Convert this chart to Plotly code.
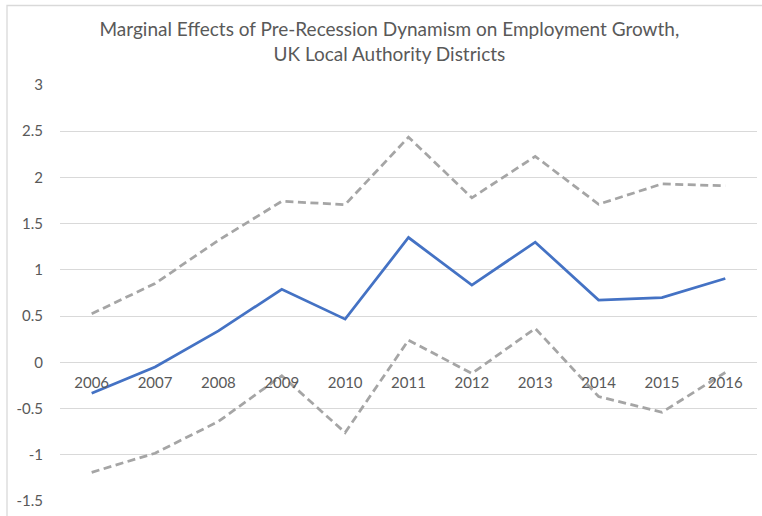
import plotly.graph_objects as go

# Years and estimated marginal effects with confidence bounds
years = ["2006", "2007", "2008", "2009", "2010", "2011", "2012", "2013", "2014", "2015", "2016"]
effect = [-0.335, -0.05, 0.34, 0.79, 0.467, 1.35, 0.835, 1.30, 0.673, 0.70, 0.907]
upper = [0.525, 0.853, 1.32, 1.742, 1.706, 2.436, 1.78, 2.228, 1.71, 1.93, 1.91]
lower = [-1.19, -0.983, -0.64, -0.145, -0.76, 0.24, -0.12, 0.367, -0.37, -0.54, -0.11]
y_ticks = [-1.5, -1, -0.5, 0, 0.5, 1, 1.5, 2, 2.5, 3]
y_tick_text = ["-1.5", "-1", "-0.5", "0", "0.5", "1", "1.5", "2", "2.5", "3"]

W, H = 762, 516
ML, MR, MT, MB = 60, 5, 85, 15
FONT = "Lato"
TEXT = "#595959"
GRID = "#d9d9d9"

fig = go.Figure()
dash_style = dict(color="#A5A5A5", width=2.75, dash="8px,4.5px")
fig.add_trace(go.Scatter(x=years, y=upper, mode="lines", line=dash_style, name="Upper"))
fig.add_trace(go.Scatter(x=years, y=lower, mode="lines", line=dash_style, name="Lower"))
fig.add_trace(go.Scatter(x=years, y=effect, mode="lines",
                         line=dict(color="#4472C4", width=2.75), name="Effect"))

ymin, ymax = -1.5, 3
plot_w = W - ML - MR
plot_h = H - MT - MB

# light frame around the chart area
fig.add_shape(type="rect", xref="paper", yref="paper",
              x0=(7 - ML) / plot_w, x1=(W + 10 - ML) / plot_w,
              y0=-(H + 10 - (H - MB)) / plot_h, y1=((H - MB) - 5.5) / plot_h,
              line=dict(color=GRID, width=1.3), fillcolor="rgba(0,0,0,0)", layer="below")

fig.update_layout(
    width=W, height=H,
    margin=dict(l=ML, r=MR, t=MT, b=MB),
    paper_bgcolor="white", plot_bgcolor="white",
    showlegend=False,
    font=dict(family=FONT, color=TEXT),
    title=dict(
        text="Marginal Effects of Pre-Recession Dynamism on Employment Growth,<br>UK Local Authority Districts",
        x=0.511, xref="container", xanchor="center",
        y=1 - 36 / H, yanchor="top",
        font=dict(family=FONT, size=19, color=TEXT),
    ),
    xaxis=dict(
        type="category", range=[-0.5, 10.5],
        showgrid=False, zeroline=False, showline=False,
        anchor="free", position=(0 - ymin) / (ymax - ymin),
        ticks="", tickfont=dict(family=FONT, size=15, color=TEXT),
        ticklabelstandoff=10,
    ),
    yaxis=dict(
        range=[ymin, ymax], domain=[0, 1],
        tickvals=y_ticks, ticktext=y_tick_text,
        showgrid=True, gridcolor=GRID, gridwidth=1.3,
        zeroline=False, showline=False, ticks="",
        tickfont=dict(family=FONT, size=15, color=TEXT),
        ticklabelstandoff=16,
    ),
)

fig.write_html("out.html")
